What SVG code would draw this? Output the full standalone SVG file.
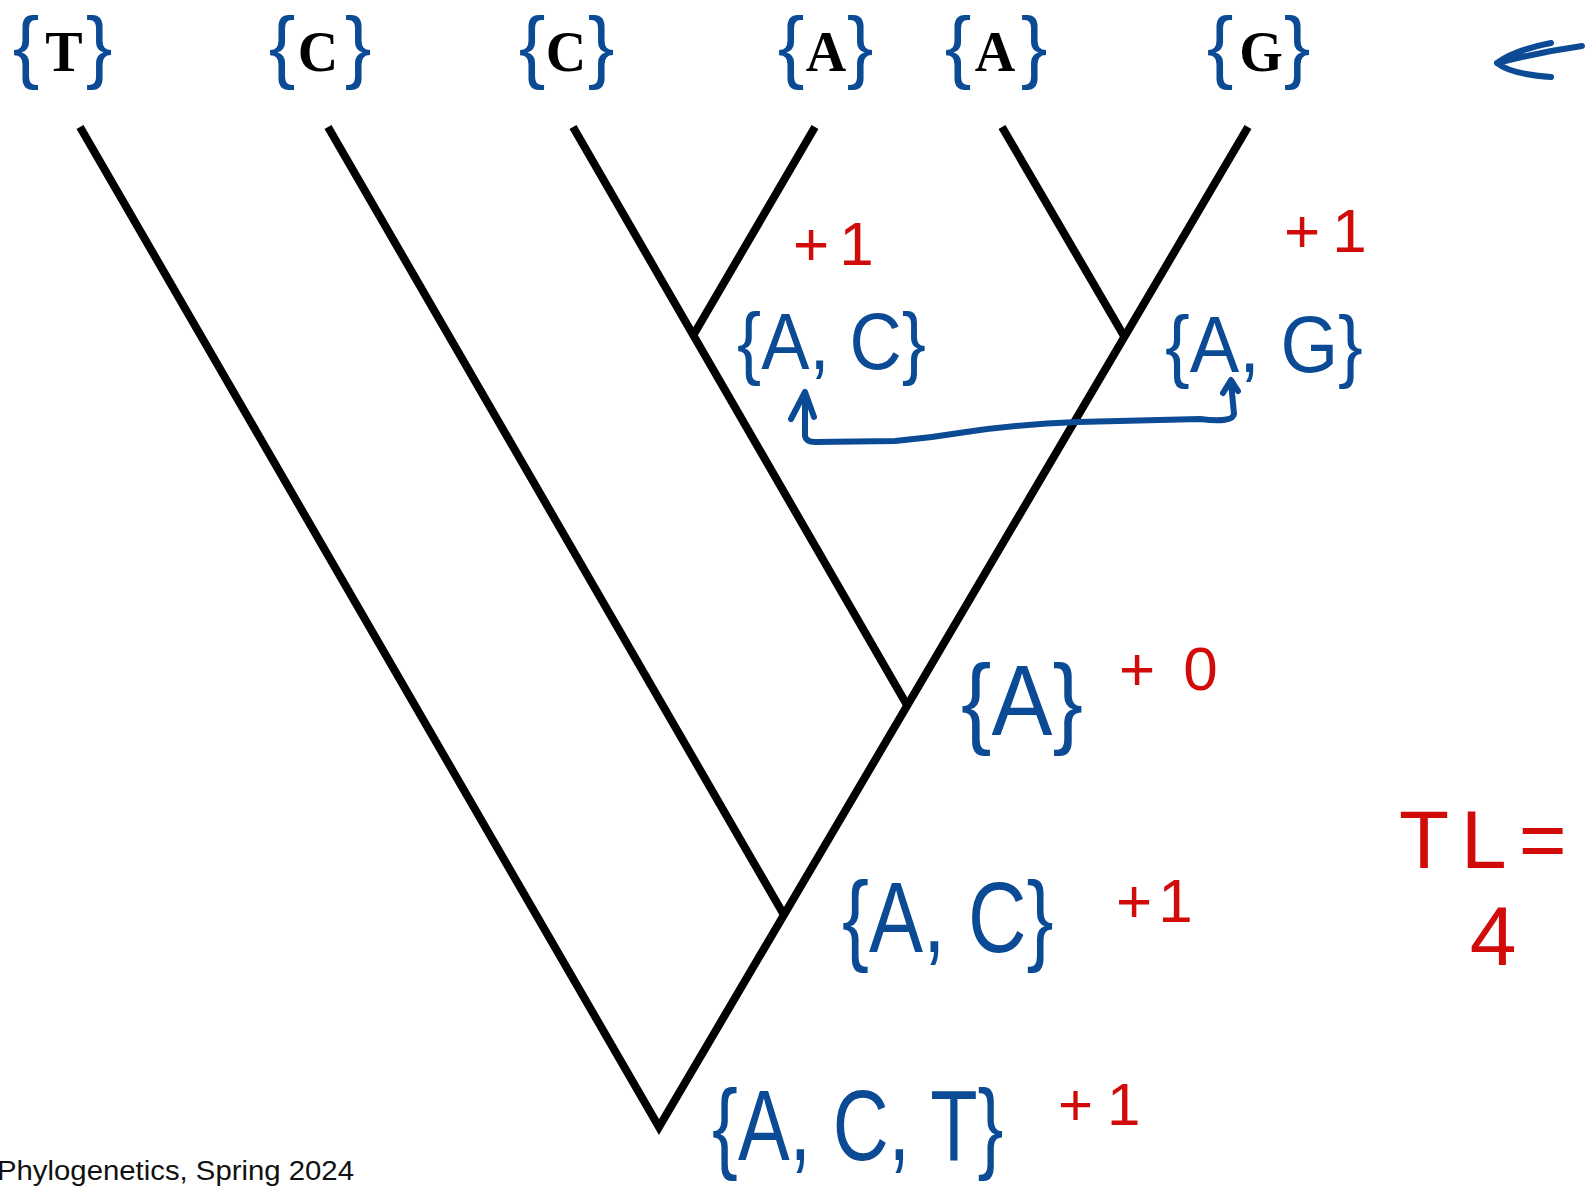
<svg xmlns="http://www.w3.org/2000/svg" width="1595" height="1186" viewBox="0 0 1595 1186">
<style>
.tree{fill:none;stroke:#000;stroke-width:8;stroke-linejoin:miter}
.br{font-family:"Liberation Sans","DejaVu Sans",sans-serif;font-size:80px;fill:#0b4a94;text-anchor:middle}
.leaf{font-family:"Liberation Serif","Times New Roman",serif;font-weight:bold;font-size:56px;fill:#000}
.hb{font-family:"Liberation Sans","DejaVu Sans",sans-serif;fill:#0b4a94}
.hr{font-family:"Liberation Sans","DejaVu Sans",sans-serif;fill:#d10a0a}
.pen{fill:none;stroke:#0b4a94;stroke-width:6;stroke-linecap:round;stroke-linejoin:round}
.foot{font-family:"Liberation Sans",Arial,sans-serif;font-size:27px;fill:#111}
</style>
<rect width="1595" height="1186" fill="#fff"/>
<g id="connectors">
<polyline class="tree" points="80,127 659,1127 1248,127"/>
<line class="tree" x1="328" y1="127" x2="784" y2="915"/>
<line class="tree" x1="573" y1="127" x2="907" y2="705"/>
<line class="tree" x1="815" y1="127" x2="694" y2="334"/>
<line class="tree" x1="1002" y1="127" x2="1124" y2="336"/>
<path class="pen" d="M791,419 L805,392 L814,417 M805,394 L805,436 Q806,442 815,442 L895,441 Q930,438 966,432 Q1020,424 1078,422 L1200,419 Q1233,423 1234,414 L1231,382 M1223,393 L1231,380 L1238,391"/>
<path class="pen" d="M1551,43 Q1515,50 1497,63 Q1510,74 1551,77 M1497,63 Q1540,52 1582,46"/>
</g>
<g id="leaf-T"><text class="br" x="26" y="73">{<tspan class="leaf" x="64" y="71">T</tspan><tspan x="99" y="73">}</tspan></text></g>
<g id="leaf-C1"><text class="br" x="282" y="73">{<tspan class="leaf" x="318" y="71">C</tspan><tspan x="358" y="73">}</tspan></text></g>
<g id="leaf-C2"><text class="br" x="532" y="73">{<tspan class="leaf" x="566" y="71">C</tspan><tspan x="601" y="73">}</tspan></text></g>
<g id="leaf-A1"><text class="br" x="791" y="73">{<tspan class="leaf" x="826" y="71">A</tspan><tspan x="860" y="73">}</tspan></text></g>
<g id="leaf-A2"><text class="br" x="958" y="73">{<tspan class="leaf" x="995" y="71">A</tspan><tspan x="1034" y="73">}</tspan></text></g>
<g id="leaf-G"><text class="br" x="1220" y="73">{<tspan class="leaf" x="1261" y="71">G</tspan><tspan x="1297" y="73">}</tspan></text></g>
<g id="node-AC-top"><text class="hb" transform="translate(737,369) scale(0.904,1)" font-size="80">{A, C}</text><text class="hr" x="793" y="265" font-size="62" letter-spacing="10">+1</text></g>
<g id="node-AG"><text class="hb" transform="translate(1165,372) scale(0.927,1)" font-size="80">{A, G}</text><text class="hr" x="1284" y="252" font-size="62" letter-spacing="12">+1</text></g>
<g id="node-A"><text class="hb" transform="translate(961,735) scale(0.914,1)" font-size="100">{A}</text><text class="hr" x="1119" y="690" font-size="62" letter-spacing="28">+0</text></g>
<g id="node-AC-low"><text class="hb" transform="translate(842,952) scale(0.81,1)" font-size="100">{A, C}</text><text class="hr" x="1116" y="922" font-size="62" letter-spacing="6">+1</text></g>
<g id="node-ACT"><text class="hb" transform="translate(712,1160) scale(0.775,1)" font-size="100">{A, C, T}</text><text class="hr" x="1058" y="1125" font-size="60" letter-spacing="14">+1</text></g>
<g id="total"><text class="hr" x="1399" y="868" font-size="82" letter-spacing="12">TL=</text><text class="hr" x="1493" y="965" font-size="84" text-anchor="middle">4</text></g>
<text class="foot" x="-3" y="1180" textLength="357" lengthAdjust="spacingAndGlyphs">Phylogenetics, Spring 2024</text>
</svg>
